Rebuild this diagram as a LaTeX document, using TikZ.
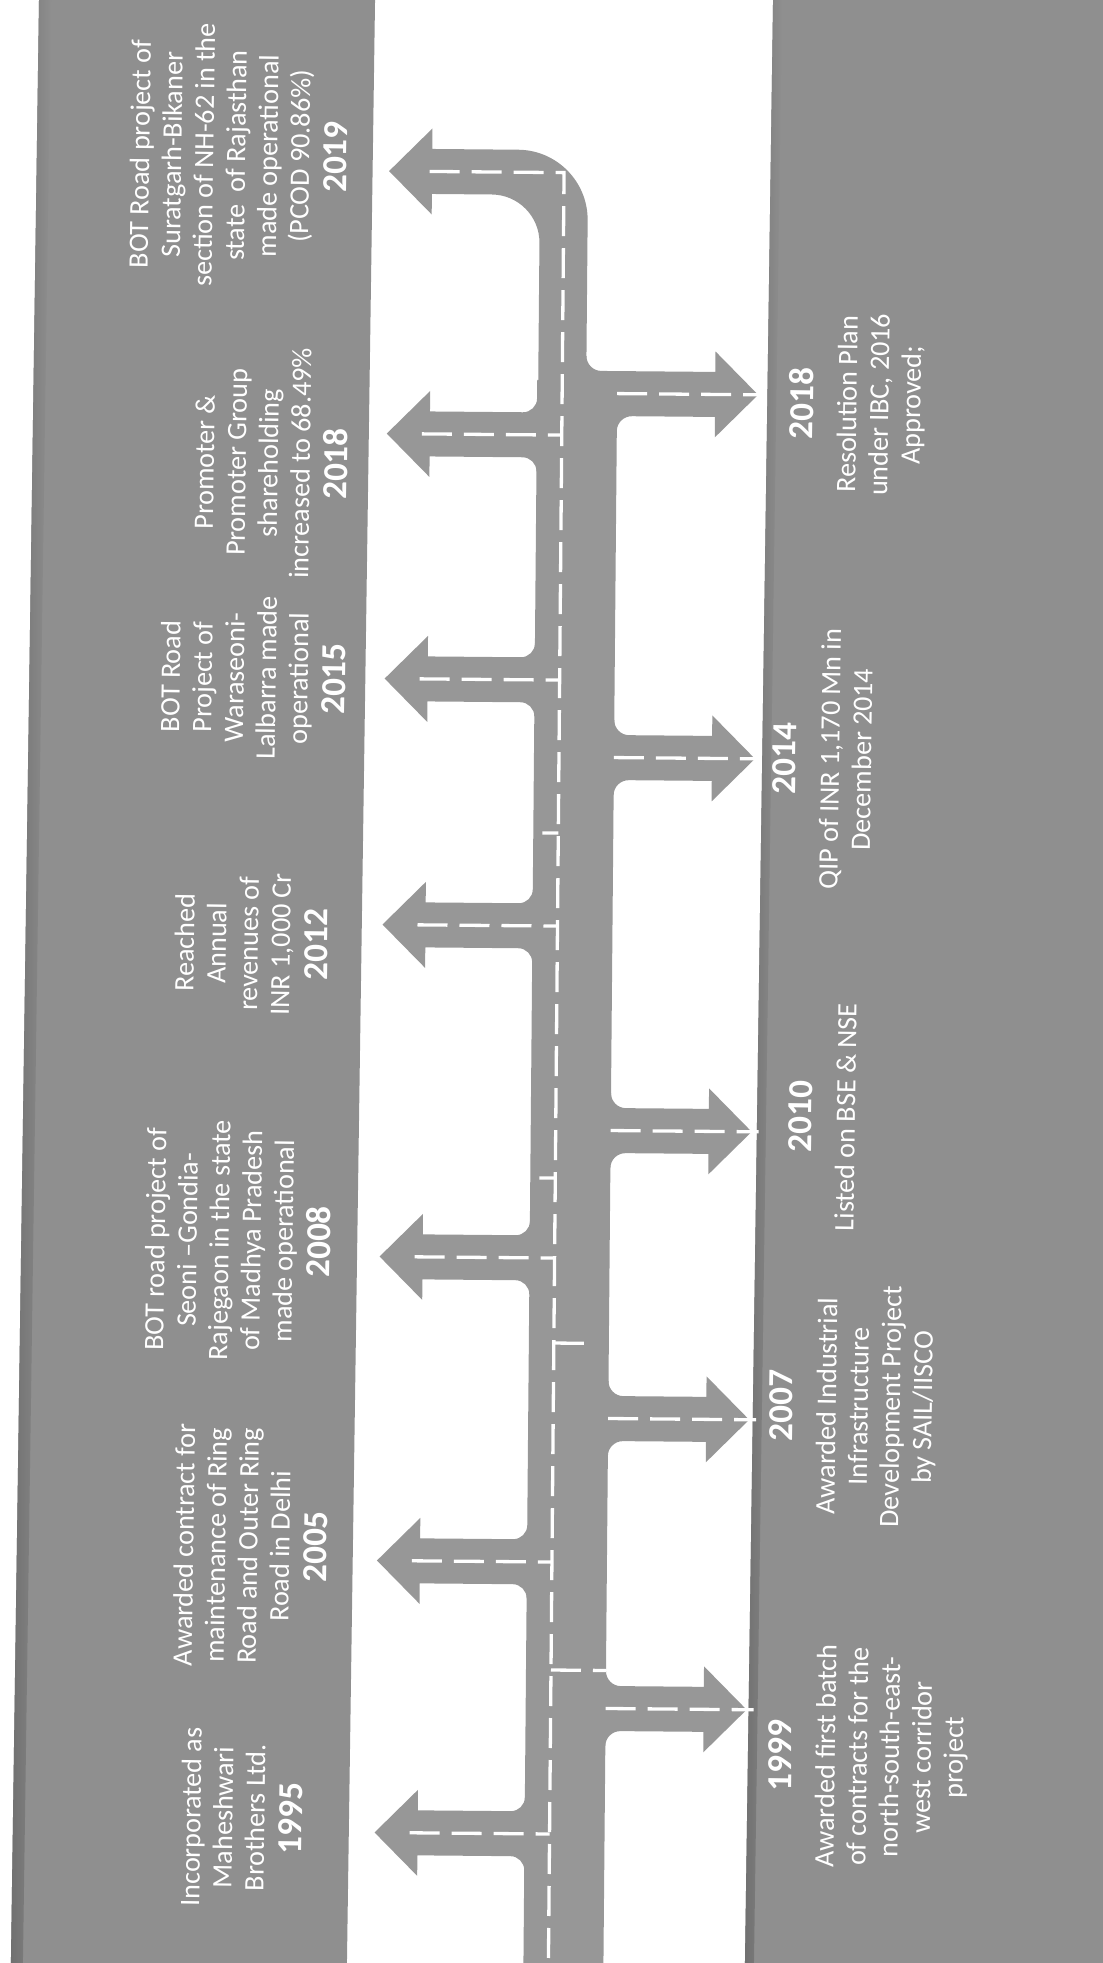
\documentclass[tikz,border=0pt]{standalone}
\usepackage{fontspec}
\setmainfont{Carlito}
\usetikzlibrary{calc}
\definecolor{panelgray}{RGB}{143,143,143}
\definecolor{edgegray}{RGB}{112,112,112}
\definecolor{roadgray}{RGB}{151,151,151}
\tikzset{
  lane/.style={white, line width=0.33mm, dash pattern=on 3mm off 1.2mm},
  note/.style={text=white, font=\fontsize{8}{9.1}\selectfont, align=center, inner sep=0pt, rotate=90},
}
\newcommand{\yr}[1]{{\fontsize{10}{9.1}\selectfont\bfseries #1}}
% branch to the upper panel, #1 = centre line
\newcommand{\branchL}[1]{%
  \fill[roadgray] (532,#1-36.5) .. controls (532,#1-28.8) and (525.7,#1-22.5) .. (518,#1-22.5)
    -- (425,#1-22.5) -- (425,#1-43) -- (382,#1) -- (425,#1+43) -- (425,#1+22.5) -- (518,#1+22.5)
    .. controls (525.7,#1+22.5) and (532,#1+28.8) .. (532,#1+36.5) -- (545,#1+36.5) -- (545,#1-36.5) -- cycle;
  \draw[lane] (417,#1) -- (557,#1);
}
% branch to the lower panel, #1 = centre line, #2/#3 = road edge above/below
\newcommand{\branchR}[3]{%
  \fill[roadgray] (#2,#1-37.5) .. controls (#2,#1-29.2) and (#2+6.7,#1-22.5) .. (#2+15,#1-22.5)
    -- (710,#1-22.5) -- (710,#1-43) -- (753,#1) -- (710,#1+43) -- (710,#1+22.5) -- (#3+15,#1+22.5)
    .. controls (#3+6.7,#1+22.5) and (#3,#1+29.2) .. (#3,#1+37.5) -- (#3-12,#1+37.5) -- (#2-12,#1-37.5) -- cycle;
  \draw[lane] (612,#1) -- (760,#1);
}
\begin{document}
\begin{tikzpicture}[x=0.1mm, y=-0.1mm]
  \useasboundingbox (0,0) rectangle (1103,1963);
  \begin{scope}[rotate around={-0.82:(551.5,981.5)}]
    \fill[panelgray] (25,-40) rectangle (361,2010);
    \fill[panelgray] (759,-40) rectangle (1150,2010);
    \shade[left color=edgegray, right color=panelgray] (25,-40) rectangle (37,2010);
    \shade[left color=edgegray, right color=panelgray] (759,-40) rectangle (768,2010);
  \end{scope}
  \begin{scope}[rotate around={-0.5:(551.5,981.5)}]
    % road
    \fill[roadgray] (532,2010) rectangle (612,380);
    \fill[roadgray] (533,420) -- (533,243) .. controls (533,216.5) and (511.5,195) .. (485,195)
      -- (425,195) -- (425,215.5) -- (382,172.5) -- (425,129.5) -- (425,150) -- (511,150)
      .. controls (549.6,150) and (581,181.4) .. (581,220) -- (581,420) -- cycle;
    \draw[lane] (557,2000) -- (557,172.5) -- (417,172.5);
    \branchL{1834}
    \branchL{1562}
    \branchL{1258}
    \branchL{926}
    \branchL{680}
    \branchL{435}
    \branchR{1708}{612}{612}
    \branchR{1418}{612}{612}
    \branchR{1130}{612}{612}
    \branchR{757}{612}{612}
    \branchR{393}{581}{612}
    \draw[lane] (557,1670) -- (612,1670);
    \draw[lane] (557,1343) -- (590,1343);
    \draw[lane] (541,1178) -- (557,1178);
    \draw[lane] (541,833) -- (557,833);
  \end{scope}
  \begin{scope}[rotate around={-0.82:(551.5,981.5)}, transform shape]
    \node[note, anchor=south] (t1995) at (315,1822) {Incorporated as\\Maheshwari\\Brothers Ltd.\\[1.6pt]\yr{1995}};
    \node[note, anchor=south] (t2005) at (336,1550) {Awarded contract for\\maintenance of Ring\\Road and Outer Ring\\Road in Delhi\\[1.6pt]\yr{2005}};
    \node[note, anchor=south] (t2008) at (335,1245) {BOT road project of\\Seoni --Gondia-\\Rajegaon in the state\\of Madhya Pradesh\\made operational\\[1.6pt]\yr{2008}};
    \node[note, anchor=south] (t2012) at (328,948) {Reached\\Annual\\revenues of\\INR 1,000 Cr\\[1.6pt]\yr{2012}};
    \node[note, anchor=south] (t2015) at (342,682) {BOT Road\\Project of\\Waraseoni-\\Lalbarra made\\operational\\[1.6pt]\yr{2015}};
    \node[note, anchor=south] (t2018a) at (341,467) {Promoter \&\\Promoter Group\\shareholding\\increased to 68.49\%\\[1.6pt]\yr{2018}};
    \node[note, anchor=south] (t2019) at (336,160) {BOT Road project of\\Suratgarh-Bikaner\\section of NH-62 in the\\state~ of Rajasthan\\made operational\\(PCOD 90.86\%)\\[1.6pt]\yr{2019}};
    \node[note, anchor=north] (t1999) at (779,1752) {\yr{1999}\\[3.2pt]Awarded first batch\\of contracts for the\\north-south-east-\\west corridor\\project};
    \node[note, anchor=north] (t2007) at (775,1402) {\yr{2007}\\[3.2pt]Awarded Industrial\\Infrastructure\\Development Project\\by SAIL/IISCO};
    \node[note, anchor=north] (t2010) at (790,1113) {\yr{2010}\\[3.2pt]Listed on BSE \& NSE};
    \node[note, anchor=north] (t2014) at (769,755) {\yr{2014}\\[3.2pt]QIP of INR 1,170 Mn in\\December 2014};
    \node[note, anchor=north] (t2018b) at (780,400) {\yr{2018}\\[3.2pt]Resolution Plan\\under IBC, 2016\\Approved;};
  \end{scope}
\end{tikzpicture}
\end{document}
